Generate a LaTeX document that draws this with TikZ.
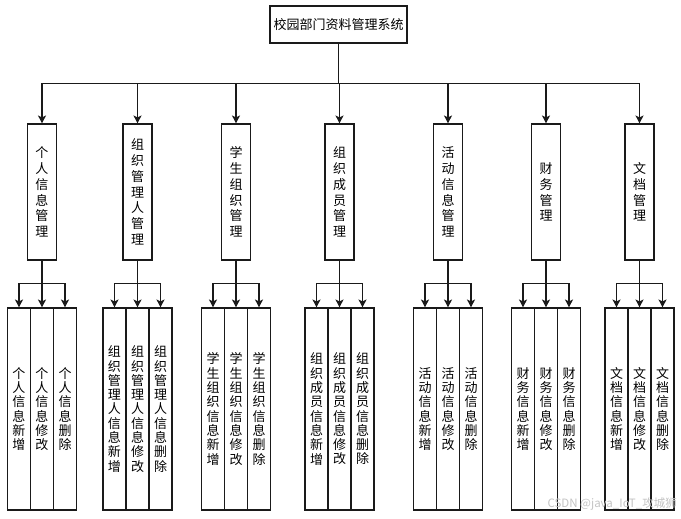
\documentclass[tikz,border=0pt]{standalone}
\usepackage{fontspec}
\newfontfamily\cjk{Noto Sans CJK SC}
\XeTeXlinebreaklocale "zh"
\XeTeXlinebreakskip = 0pt plus 1pt
\usetikzlibrary{positioning, calc, arrows.meta}

\begin{document}
\begin{tikzpicture}[
  x=1pt, y=-1pt,
  font=\cjk,
  >={Stealth[length=8pt,width=8pt,inset=2pt]},
]
\definecolor{cline}{HTML}{1A1A1A}   % box border / connectors
\definecolor{cmark}{HTML}{C4C4C4}   % watermark grey

\tikzset{
  boxbase/.style={draw=cline, line width=1.1pt, fill=white, inner sep=0pt, align=center},
  modbox/.style={boxbase, minimum width=29pt, minimum height=136pt, text width=16pt,
                 font=\cjk\fontsize{13}{15.8}\selectfont},
  subbox/.style={boxbase, minimum width=23pt, minimum height=202pt, text width=16pt,
                 font=\cjk\fontsize{13}{14.3}\selectfont},
  link/.style={cline, line width=1.1pt},
}

\useasboundingbox (0,0) rectangle (681,519);

% =====================================================================
% Root box
% =====================================================================
\node[boxbase, minimum width=137pt, minimum height=37pt,
      font=\cjk\fontsize{13}{15}\selectfont] (root) at (338.5,24.5) {校园部门资料管理系统};

% =====================================================================
% Module column boxes (second row) and their function boxes (third row)
% =====================================================================
\foreach \i/\xc/\txt/\pre in {1/42/个人信息管理/个人信息,
                               2/137.5/组织管理人管理/组织管理人信息,
                               3/236/学生组织管理/学生组织信息,
                               4/339.5/组织成员管理/组织成员信息,
                               5/448/活动信息管理/活动信息,
                               6/546/财务管理/财务信息,
                               7/639.5/文档管理/文档信息}{
  \node[modbox] (m\i) at (\xc,192) {\txt};
  \foreach \j/\dx/\act in {1/-23/新增, 2/0/修改, 3/23/删除}{
    \pgfmathsetmacro{\sx}{\xc+\dx}
    \node[subbox] (s\i-\j) at (\sx,409) {\pre\act};
  }
}

% =====================================================================
% Connectors: root -> modules, module -> functions
% =====================================================================
\coordinate (rootfork) at ($(root.south)+(0,40)$);
\foreach \i in {1,...,7}{
  \draw[link, ->] (root.south) -- (rootfork) -| (m\i.north);
  \coordinate (fork\i) at ($(m\i.south)+(0,23)$);
  \foreach \j in {1,2,3}{
    \draw[link, ->] (m\i.south) -- (fork\i) -| (s\i-\j.north);
  }
}

% watermark
\node[text=cmark, font=\cjk\fontsize{11.5}{12}\selectfont, anchor=base east,
      inner sep=0pt] (wmark) at (677,507) {CSDN @java\_IoT\_攻城狮};

\end{tikzpicture}
\end{document}
